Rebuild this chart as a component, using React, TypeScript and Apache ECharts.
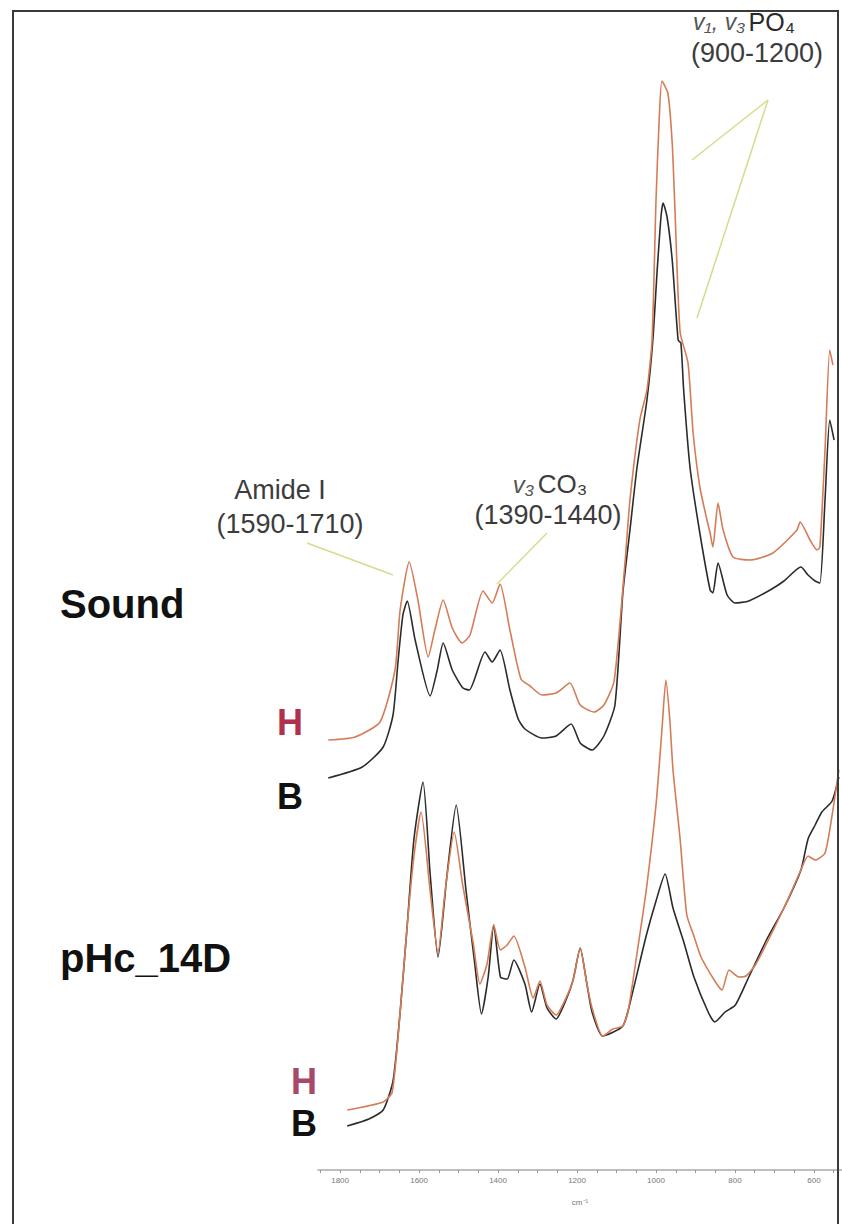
import React, { useEffect, useRef } from "react";
import * as echarts from "echarts";

// Wavenumber tick labels (cm-1)
const tickLabels = [1800, 1600, 1400, 1200, 1000, 800, 600];
const tickMarks = [1850, 1800, 1750, 1700, 1650, 1600, 1550, 1500, 1450, 1400, 1350, 1300, 1250, 1200, 1150, 1100, 1050, 1000, 950, 900, 850, 800, 750, 700, 650, 600, 550];

// Sound – H (orange)
const soundHWn = [1830, 1762, 1699, 1661, 1648, 1625, 1603, 1577, 1560, 1539, 1516, 1491, 1471, 1438, 1415, 1395, 1370, 1342, 1319, 1289, 1253, 1218, 1192, 1157, 1132, 1106, 1078, 1066, 1041, 1023, 1010, 1000, 992, 985, 970, 959, 952, 939, 919, 906, 889, 871, 863, 856, 843, 830, 805, 762, 704, 643, 635, 610, 592, 585, 572, 560, 552];
const soundHVal = [430, 433, 448, 500, 560, 608, 570, 513, 540, 570, 542, 527, 535, 579, 567, 586, 540, 491, 484, 475, 477, 487, 465, 458, 465, 489, 610, 670, 750, 780, 830, 970, 1050, 1089, 1077, 1027, 960, 838, 807, 737, 683, 650, 637, 623, 667, 640, 613, 610, 617, 640, 648, 630, 620, 623, 720, 820, 805];

// Sound – B (black)
const soundBWn = [1830, 1744, 1691, 1666, 1653, 1641, 1630, 1610, 1572, 1554, 1539, 1516, 1489, 1473, 1433, 1415, 1395, 1370, 1349, 1332, 1289, 1253, 1215, 1192, 1162, 1132, 1104, 1084, 1066, 1048, 1023, 1008, 997, 987, 982, 972, 959, 944, 937, 930, 914, 889, 863, 856, 843, 820, 800, 765, 711, 676, 633, 615, 597, 585, 572, 560, 549];
const soundBVal = [392, 403, 423, 455, 510, 555, 569, 530, 474, 500, 527, 500, 482, 480, 518, 508, 520, 480, 451, 441, 432, 434, 446, 427, 420, 434, 465, 577, 640, 703, 770, 830, 900, 955, 967, 953, 910, 830, 827, 780, 703, 637, 580, 577, 607, 575, 567, 569, 580, 589, 603, 595, 589, 587, 670, 750, 730];

// pHc_14D – H (orange)
const phcHWn = [1782, 1691, 1668, 1648, 1630, 1613, 1595, 1572, 1552, 1534, 1511, 1490, 1463, 1446, 1428, 1411, 1394, 1377, 1360, 1332, 1311, 1294, 1276, 1253, 1228, 1210, 1192, 1175, 1162, 1135, 1109, 1084, 1071, 1048, 1025, 1000, 985, 975, 965, 957, 939, 922, 904, 886, 851, 833, 815, 790, 772, 747, 676, 633, 615, 597, 572, 554, 537];
const phcHVal = [60, 68, 78, 158, 245, 314, 358, 279, 217, 279, 338, 286, 227, 186, 206, 245, 220, 225, 234, 203, 172, 189, 165, 155, 172, 190, 222, 186, 162, 134, 141, 144, 158, 217, 279, 365, 440, 490, 450, 400, 331, 255, 234, 213, 189, 180, 200, 193, 194, 206, 262, 300, 314, 310, 317, 355, 400];

// pHc_14D – B (black)
const phcBWn = [1782, 1727, 1691, 1666, 1648, 1630, 1613, 1590, 1572, 1552, 1529, 1506, 1481, 1459, 1442, 1425, 1411, 1394, 1377, 1360, 1332, 1315, 1294, 1276, 1253, 1228, 1210, 1192, 1175, 1162, 1135, 1084, 1061, 1025, 1000, 977, 957, 929, 904, 868, 851, 825, 799, 765, 719, 676, 633, 615, 597, 580, 554, 537];
const phcBVal = [44, 51, 60, 89, 158, 245, 331, 388, 296, 213, 296, 365, 279, 206, 156, 193, 245, 193, 191, 210, 186, 158, 186, 162, 151, 170, 190, 222, 186, 158, 134, 144, 175, 234, 269, 296, 262, 227, 193, 158, 148, 158, 165, 193, 231, 262, 300, 331, 345, 358, 369, 393];

const ORANGE = "#d57c56";
const BLACK = "#2b2b2b";

const zip = (xs: number[], ys: number[]) => xs.map((x, i) => [x, ys[i]]);

export default function App() {
  const ref = useRef<HTMLDivElement>(null);
  useEffect(() => {
    if (!ref.current) return;
    const chart = echarts.init(ref.current, null, { renderer: "svg" });
    const lineSeries = (name: string, xs: number[], ys: number[], color: string) => ({
      name,
      type: "line",
      data: zip(xs, ys),
      showSymbol: false,
      smooth: 0.2,
      lineStyle: { color, width: 1.6 },
      z: color === ORANGE ? 3 : 2,
    });
    const annotFont = "27px 'Liberation Sans', Arial, sans-serif";
    const boldFont = "bold 40px 'Liberation Sans', Arial, sans-serif";
    const hbFont = "bold 36px 'Liberation Sans', Arial, sans-serif";
    const lineColor = "#d6dc8c";
    chart.setOption({
      animation: false,
      backgroundColor: "#ffffff",
      grid: { left: 318, right: 0, top: 10, bottom: 54, containLabel: false },
      xAxis: {
        type: "value",
        inverse: true,
        min: 529,
        max: 1856,
        name: "cm⁻¹",
        nameLocation: "middle",
        nameGap: 28,
        nameTextStyle: { fontSize: 8, color: "#777", fontFamily: "Liberation Sans" },
        axisLine: { show: true, lineStyle: { color: "#aaa", width: 1.5 } },
        axisTick: { show: true, length: 3, customValues: tickMarks, lineStyle: { color: "#999" } },
        axisLabel: {
          show: true,
          customValues: tickLabels,
          fontSize: 8,
          color: "#777",
          margin: 6,
          fontFamily: "Liberation Sans",
          formatter: (v: number) => String(v),
        },
        splitLine: { show: false },
      },
      yAxis: {
        type: "value",
        min: 0,
        max: 1160,
        show: false,
        splitLine: { show: false },
      },
      series: [
        lineSeries("Sound B", soundBWn, soundBVal, BLACK),
        lineSeries("Sound H", soundHWn, soundHVal, ORANGE),
        lineSeries("pHc_14D B", phcBWn, phcBVal, BLACK),
        lineSeries("pHc_14D H", phcHWn, phcHVal, ORANGE),
      ],
      graphic: [
        { type: "rect", shape: { x: 13, y: 11, width: 825, height: 1230 }, style: { fill: "none", stroke: "#3a3a3a", lineWidth: 2 }, z: 10 },
        { type: "text", x: 60, y: 604, style: { text: "Sound", font: boldFont, fill: "#111", verticalAlign: "middle", align: "left" } },
        { type: "text", x: 60, y: 958, style: { text: "pHc_14D", font: boldFont, fill: "#111", verticalAlign: "middle", align: "left" } },
        { type: "text", x: 290, y: 722, style: { text: "H", font: hbFont, fill: "#b0304f", verticalAlign: "middle", align: "center" } },
        { type: "text", x: 290, y: 796, style: { text: "B", font: hbFont, fill: "#111", verticalAlign: "middle", align: "center" } },
        { type: "text", x: 304, y: 1081, style: { text: "H", font: hbFont, fill: "#a8486a", verticalAlign: "middle", align: "center" } },
        { type: "text", x: 304, y: 1123, style: { text: "B", font: hbFont, fill: "#111", verticalAlign: "middle", align: "center" } },
        { type: "text", x: 280, y: 490, style: { text: "Amide I", font: annotFont, fill: "#3c3c3c", verticalAlign: "middle", align: "center" } },
        { type: "text", x: 290, y: 524, style: { text: "(1590-1710)", font: annotFont, fill: "#3c3c3c", verticalAlign: "middle", align: "center" } },
        {
          type: "text", x: 550, y: 484,
          style: {
            text: "{i|v₃} {n|CO₃}",
            verticalAlign: "middle", align: "center",
            rich: {
              i: { font: "italic 24px 'Liberation Sans', Arial, sans-serif", fill: "#555", lineHeight: 24 },
              n: { font: "26px 'Liberation Sans', Arial, sans-serif", fill: "#3c3c3c", lineHeight: 24 },
            },
          },
        },
        { type: "text", x: 548, y: 515, style: { text: "(1390-1440)", font: annotFont, fill: "#3c3c3c", verticalAlign: "middle", align: "center", lineHeight: 24 } },
        {
          type: "text", x: 744, y: 22,
          style: {
            text: "{i|v₁, v₃} {n|PO₄}",
            verticalAlign: "middle", align: "center",
            rich: {
              i: { font: "italic 23px 'Liberation Sans', Arial, sans-serif", fill: "#555", lineHeight: 20 },
              n: { font: "25px 'Liberation Sans', Arial, sans-serif", fill: "#2a2a2a", lineHeight: 20 },
            },
          },
        },
        { type: "text", x: 757, y: 53, style: { text: "(900-1200)", font: "27px 'Liberation Sans', Arial, sans-serif", fill: "#3c3c3c", verticalAlign: "middle", align: "center", lineHeight: 22 } },
        { type: "line", shape: { x1: 307, y1: 543, x2: 393, y2: 575 }, style: { stroke: lineColor, lineWidth: 1.5 } },
        { type: "line", shape: { x1: 547, y1: 533, x2: 497, y2: 584 }, style: { stroke: lineColor, lineWidth: 1.5 } },
        { type: "line", shape: { x1: 768, y1: 100, x2: 692, y2: 160 }, style: { stroke: lineColor, lineWidth: 1.5 } },
        { type: "line", shape: { x1: 768, y1: 100, x2: 697, y2: 318 }, style: { stroke: lineColor, lineWidth: 1.5 } },
      ],
    });
    return () => chart.dispose();
  }, []);
  return (
    <div
      ref={ref}
      style={{ position: "fixed", left: 0, top: 0, width: 842, height: 1224, background: "#fff" }}
    />
  );
}
